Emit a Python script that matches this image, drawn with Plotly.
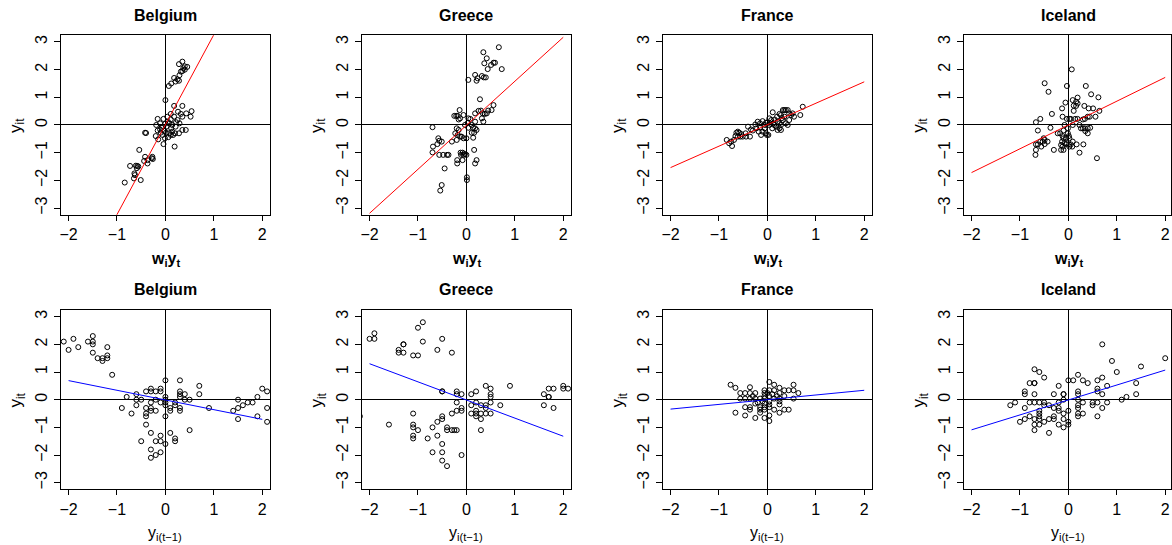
import plotly.graph_objects as go

W, H = 1172, 545

countries = ["Belgium", "Greece", "France", "Iceland"]
x_ticks = [-2, -1, 0, 1, 2]
y_ticks = [-3, -2, -1, 0, 1, 2, 3]

# ---- top row: y_it against w_i y_t (spatial lag) ----
belgium_spatial = [
    [0.35, 2.29], [0.28, 2.2], [0.40, 2.12], [0.45, 2.1], [0.37, 2.05], [0.32, 1.93], [0.29, 1.8],
    [0.25, 1.65], [0.18, 1.7], [0.21, 1.57], [0.12, 1.5], [0.07, 1.41], [0.28, 1.6], [0.35, 1.95],
    [0.40, 2.0], [0.0, 0.9],
    [0.54, 0.5], [0.52, 0.3], [0.43, 0.42], [0.35, 0.69], [0.18, 0.69], [0.26, 0.48], [0.32, 0.4],
    [0.18, 0.3], [0.11, 0.4], [0.04, 0.3], [0.35, 0.3], [0.25, 0.18], [0.11, 0.2], [-0.04, 0.22],
    [-0.16, 0.22], [-0.19, 0.0], [-0.11, 0.06], [-0.06, -0.06], [0.02, -0.06], [0.08, 0.06],
    [0.14, 0.0], [0.21, -0.06], [0.29, 0.06], [0.35, -0.18], [0.42, -0.18], [0.14, -0.24],
    [0.08, -0.3], [0.01, -0.28], [-0.06, -0.36], [-0.11, -0.16], [-0.16, -0.2], [-0.2, -0.4],
    [-0.15, -0.52], [-0.04, -0.69], [0.19, -0.78], [0.28, -0.3], [0.11, -0.36], [-0.1, -0.28],
    [-0.01, -0.48], [0.06, -0.44], [0.16, -0.36], [0.22, 0.1], [0.05, 0.12], [-0.08, -0.1],
    [0.0, 0.05], [0.2, -0.3], [0.12, -0.12], [-0.02, -0.2],
    [-0.42, -0.28], [-0.40, -0.29], [-0.54, -0.9], [-0.42, -1.15], [-0.37, -1.27], [-0.44, -1.3],
    [-0.37, -1.39], [-0.27, -1.15], [-0.28, -1.2], [-0.26, -1.23], [-0.73, -1.48], [-0.61, -1.47],
    [-0.58, -1.48], [-0.56, -1.5], [-0.59, -1.56], [-0.64, -1.75], [-0.63, -1.81], [-0.65, -1.93],
    [-0.51, -1.99], [-0.84, -2.08],
]
greece_spatial = [
    [0.67, 2.81], [0.35, 2.63], [0.42, 2.41], [0.37, 2.23], [0.56, 2.25], [0.59, 2.25], [0.51, 2.17],
    [0.44, 2.02], [0.73, 2.02], [0.18, 1.81], [0.32, 1.77], [0.36, 1.72], [0.40, 1.72], [0.21, 1.6],
    [0.23, 1.69], [0.04, 1.63], [0.28, 0.93], [0.56, 0.72], [0.52, 0.54], [0.45, 0.52], [0.30, 0.52],
    [0.25, 0.51], [0.34, 0.42], [0.42, 0.42], [0.38, 0.4], [0.18, 0.42], [-0.14, 0.54], [-0.25, 0.33],
    [-0.21, 0.33], [-0.18, 0.33], [-0.13, 0.24], [-0.16, 0.2], [-0.06, 0.36], [0.04, 0.24],
    [0.08, 0.22], [0.32, 0.24], [0.35, 0.12], [0.18, 0.12], [0.11, 0.0], [0.03, 0.08], [-0.03, 0.0],
    [0.04, -0.1], [0.14, -0.1], [0.18, -0.12], [0.21, -0.18], [0.16, -0.28], [0.11, -0.28],
    [0.14, -0.46], [-0.2, -0.12], [-0.16, -0.18], [-0.23, -0.3], [-0.18, -0.36], [-0.13, -0.42],
    [-0.1, -0.42], [-0.06, -0.48], [-0.3, -0.6], [-0.2, -0.54], [0.0, -0.48], [-0.58, -0.48],
    [-0.56, -0.57], [-0.51, -0.6], [-0.6, -0.69], [-0.7, -0.08], [-0.69, -0.78], [-0.7, -0.99],
    [-0.56, -1.08], [-0.48, -1.08], [-0.4, -1.08], [-0.37, -1.08], [-0.12, -1.0], [-0.08, -1.0],
    [-0.03, -1.05], [-0.06, -1.08], [-0.11, -1.08], [0.0, -1.08], [0.16, -0.9], [-0.19, -1.27],
    [-0.19, -1.39], [-0.08, -1.27], [0.21, -1.27], [0.18, -1.39], [-0.45, -1.57], [0.01, -1.89],
    [0.01, -1.99], [-0.51, -2.17], [-0.54, -2.37],
]
france_spatial = [
    [-0.84, -0.54], [-0.79, -0.66], [-0.75, -0.6], [-0.73, -0.76], [-0.69, -0.54], [-0.66, -0.4],
    [-0.64, -0.28], [-0.61, -0.24], [-0.58, -0.28], [-0.54, -0.33], [-0.61, -0.42], [-0.56, -0.42],
    [-0.51, -0.42], [-0.44, -0.42], [-0.40, -0.06], [-0.36, -0.42], [-0.34, -0.16], [-0.25, 0.02],
    [-0.2, 0.12], [-0.15, 0.06], [-0.23, -0.12], [-0.18, -0.24], [-0.13, -0.36], [-0.1, -0.24],
    [-0.06, -0.12], [-0.03, -0.3], [-0.1, 0.14], [-0.03, 0.08], [0.04, 0.24], [0.08, 0.18],
    [0.04, 0.0], [0.1, -0.12], [0.14, 0.0], [0.18, -0.06], [-0.01, -0.36], [0.02, -0.36],
    [0.11, 0.46], [0.13, 0.06], [0.21, 0.12], [0.25, 0.06], [0.28, 0.0], [0.32, 0.18], [0.35, 0.3],
    [0.28, 0.36], [0.32, 0.54], [0.35, 0.54], [0.38, 0.54], [0.42, 0.54], [0.45, 0.42], [0.49, 0.36],
    [0.52, 0.42], [0.55, 0.3], [0.45, 0.18], [0.38, 0.06], [0.42, 0.0], [0.25, -0.12], [0.28, -0.18],
    [0.21, -0.18], [0.68, 0.36], [0.73, 0.66], [0.0, 0.1], [-0.05, 0.0], [0.06, 0.05], [0.15, 0.2],
    [0.2, 0.3], [-0.15, -0.1], [0.3, 0.25], [0.25, 0.4], [-0.3, -0.2], [-0.45, -0.3],
]
iceland_spatial = [
    [0.07, 2.01], [-0.49, 1.51], [-0.03, 1.41], [0.36, 1.41], [-0.41, 1.2], [0.47, 1.11], [0.62, 1.0],
    [0.19, 0.99], [0.09, 0.9], [0.16, 0.84], [-0.06, 0.81], [0.11, 0.7], [0.16, 0.69], [0.19, 0.78],
    [0.33, 0.69], [-0.13, 0.6], [0.51, 0.6], [0.42, 0.6], [0.64, 0.51], [0.11, 0.51], [-0.34, 0.4],
    [0.4, 0.3], [0.44, 0.3], [0.56, 0.3], [-0.12, 0.3], [-0.58, 0.22], [-0.03, 0.22], [0.02, 0.22],
    [0.05, 0.22], [0.14, 0.22], [0.19, 0.22], [0.3, 0.2], [0.34, 0.22], [-0.67, 0.1], [-0.63, -0.2],
    [-0.37, -0.1], [-0.08, 0.0], [0.09, 0.0], [0.23, 0.0], [0.26, -0.12], [0.3, -0.12], [0.34, -0.12],
    [0.4, -0.12], [0.45, -0.1], [-0.01, -0.12], [-0.1, -0.2], [0.4, -0.3], [0.35, -0.22],
    [-0.22, -0.3], [-0.17, -0.3], [-0.12, -0.4], [-0.1, -0.48], [0.01, -0.4], [0.02, -0.48],
    [-0.13, -0.6], [-0.08, -0.66], [-0.43, -0.6], [-0.51, -0.48], [-0.49, -0.54], [-0.53, -0.6],
    [-0.58, -0.6], [-0.67, -0.7], [-0.63, -0.7], [-0.56, -0.78], [-0.49, -0.69], [-0.67, -0.9],
    [-0.68, -1.08], [-0.3, -0.9], [-0.15, -0.72], [-0.12, -0.78], [-0.05, -0.7], [-0.03, -0.66],
    [-0.15, -0.9], [-0.1, -0.9], [0.05, -0.7], [0.09, -0.6], [0.17, -0.7], [0.08, -0.78],
    [0.23, -1.0], [0.31, -0.7], [0.59, -1.2], [-0.05, -0.46], [-0.01, -0.3], [0.02, -0.78],
]

# ---- bottom row: y_it against y_i(t-1) (time lag) ----
belgium_temporal = [
    [-2.1, 2.1], [-2.0, 1.8], [-1.9, 2.2], [-1.8, 1.9], [-1.6, 2.1], [-1.5, 2.3], [-1.5, 2.1],
    [-1.5, 2.0], [-1.5, 1.7], [-1.4, 1.5], [-1.3, 1.5], [-1.3, 1.4], [-1.2, 1.9], [-1.2, 1.6],
    [-1.2, 1.5], [-1.1, 0.9],
    [-0.9, -0.3], [-0.8, 0.1], [-0.7, -0.5], [-0.6, 0.2], [-0.6, 0.0], [-0.6, -0.2], [-0.5, 0.0],
    [-0.5, -1.5], [-0.4, 0.3], [-0.4, -0.3], [-0.4, -0.5], [-0.4, -0.6], [-0.4, -0.9],
    [-0.3, 0.4], [-0.3, 0.3], [-0.3, -0.1], [-0.3, -0.3], [-0.3, -0.4], [-0.3, -1.2], [-0.3, -1.8],
    [-0.3, -2.1], [-0.2, 0.3], [-0.2, 0.0], [-0.2, -0.4], [-0.2, -1.5], [-0.2, -2.0],
    [-0.1, 0.4], [-0.1, 0.3], [-0.1, -0.1], [-0.1, -1.3], [-0.1, -1.5], [-0.1, -1.9],
    [0.0, 0.7], [0.0, 0.1], [0.0, 0.0], [0.0, -0.1], [0.0, -0.2], [0.0, -0.6], [0.0, -1.6],
    [0.1, -0.3], [0.1, -0.4], [0.1, -1.2], [0.2, -0.1], [0.2, -0.2], [0.2, -1.4], [0.2, -1.5],
    [0.3, 0.7], [0.3, 0.3], [0.3, 0.2], [0.3, 0.1], [0.3, -0.3], [0.3, -0.4], [0.4, 0.2], [0.4, 0.0],
    [0.5, 0.0], [0.5, -1.1], [0.7, 0.5], [0.7, 0.2], [0.9, -0.3],
    [1.4, -0.4], [1.5, 0.0], [1.5, -0.3], [1.5, -0.7], [1.6, -0.2], [1.7, -0.1], [1.8, -0.1],
    [1.9, 0.1], [1.9, -0.6], [2.0, 0.4], [2.1, 0.3], [2.1, -0.3], [2.1, -0.8],
]
greece_temporal = [
    [-2.2, -0.6], [-2.0, 2.2], [-1.9, 2.4], [-1.9, 2.2], [-1.6, -0.9], [-1.4, 1.8], [-1.4, 1.7],
    [-1.3, 2.0], [-1.3, 2.0], [-1.3, 1.7], [-1.1, 1.6], [-1.1, -0.5], [-1.1, -0.9], [-1.1, -1.0],
    [-1.1, -1.3], [-1.1, -1.4], [-1.0, 2.6], [-1.0, 1.6], [-1.0, -1.1], [-0.9, 2.8], [-0.9, 2.1],
    [-0.8, -1.4], [-0.7, -1.0], [-0.7, -1.9], [-0.6, 1.8], [-0.6, -0.8], [-0.6, -1.3],
    [-0.5, 2.2], [-0.5, 0.3], [-0.5, 0.3], [-0.5, -0.6], [-0.5, -0.7], [-0.5, -1.6], [-0.5, -1.9],
    [-0.5, -2.2], [-0.4, -1.0], [-0.4, -1.1], [-0.4, -2.4], [-0.3, 1.7], [-0.3, -0.5], [-0.3, -1.1],
    [-0.25, -1.1], [-0.2, 0.3], [-0.2, 0.2], [-0.2, -0.1], [-0.2, -0.4], [-0.2, -1.1],
    [-0.1, 0.2], [-0.1, -0.3], [-0.1, -0.4], [-0.1, -2.0],
    [0.1, 0.2], [0.1, -0.2], [0.1, -0.5], [0.2, 0.3], [0.2, -0.1], [0.2, -0.4], [0.2, -0.5],
    [0.2, -0.6], [0.3, -0.2], [0.3, -0.5], [0.3, -0.7], [0.3, -1.1], [0.4, 0.5], [0.4, -0.2],
    [0.4, -0.3], [0.4, -0.5], [0.5, 0.4], [0.5, 0.2], [0.5, 0.1], [0.5, -0.1], [0.5, -0.5],
    [0.7, -0.2], [0.9, 0.5], [1.6, 0.2], [1.6, -0.2], [1.7, 0.4], [1.7, 0.1], [1.7, 0.1],
    [1.8, 0.4], [1.8, -0.3], [2.0, 0.5], [2.0, 0.4], [2.1, 0.4],
]
france_temporal = [
    [-0.76, 0.54], [-0.66, 0.43], [-0.66, -0.47], [-0.56, 0.24], [-0.56, 0.04],
    [-0.46, 0.24], [-0.46, 0.04], [-0.46, -0.27], [-0.46, -0.57],
    [-0.36, 0.45], [-0.36, 0.24], [-0.36, 0.04], [-0.36, -0.27], [-0.36, -0.36],
    [-0.25, 0.24], [-0.25, 0.04], [-0.25, -0.14], [-0.25, -0.66],
    [-0.15, 0.04], [-0.15, -0.27], [-0.15, -0.36], [-0.15, -0.47],
    [-0.06, 0.34], [-0.06, 0.24], [-0.06, 0.13], [-0.06, 0.04], [-0.06, -0.14], [-0.06, -0.27],
    [-0.06, -0.36], [-0.06, -0.66],
    [0.04, 0.64], [0.04, 0.34], [0.04, 0.13], [0.04, -0.06], [0.04, -0.17], [0.04, -0.27],
    [0.04, -0.57], [0.04, -0.77],
    [0.14, 0.54], [0.14, 0.34], [0.14, 0.04], [0.14, -0.36],
    [0.25, 0.43], [0.25, 0.24], [0.25, 0.04], [0.25, -0.06], [0.25, -0.17], [0.25, -0.47],
    [0.35, 0.34], [0.35, 0.13], [0.35, -0.36], [0.44, 0.34], [0.44, -0.36],
    [0.54, 0.54], [0.54, 0.34], [0.54, 0.04], [0.64, 0.24],
    [-0.3, 0.13], [-0.1, -0.06], [0.0, 0.24], [0.1, 0.2], [0.2, 0.13], [-0.2, -0.1],
]
iceland_temporal = [
    [-1.2, -0.2], [-1.1, -0.1], [-1.0, -0.8], [-0.9, 0.3], [-0.9, 0.2], [-0.9, -0.3], [-0.9, -0.7],
    [-0.8, 0.6], [-0.8, -0.1], [-0.8, -0.6], [-0.7, 1.1], [-0.7, 0.6], [-0.7, 0.6], [-0.7, 0.2],
    [-0.7, -0.1], [-0.7, -0.7], [-0.7, -0.9], [-0.7, -1.1], [-0.6, 1.0], [-0.6, -0.1], [-0.6, -0.4],
    [-0.6, -0.5], [-0.6, -0.6], [-0.6, -0.7], [-0.6, -0.9], [-0.5, 0.8], [-0.5, -0.1], [-0.5, -0.2],
    [-0.5, -0.8], [-0.4, -0.2], [-0.4, -1.2], [-0.4, -0.7], [-0.3, 0.2], [-0.3, -0.3], [-0.3, -0.6],
    [-0.3, -0.7], [-0.2, 0.5], [-0.2, -0.1], [-0.2, -0.3], [-0.2, -0.4], [-0.2, -0.9],
    [-0.1, 0.2], [-0.1, 0.2], [-0.1, 0.0], [-0.1, -0.5], [-0.1, -0.7], [-0.1, -1.0],
    [0.0, 0.7], [0.0, -0.4], [0.0, -0.8], [0.0, -0.9], [0.1, 0.7], [0.2, 0.9], [0.2, 0.3],
    [0.2, 0.2], [0.2, 0.0], [0.2, -0.2], [0.2, -0.3], [0.2, -0.5], [0.2, -0.6], [0.3, 0.7],
    [0.3, -0.1], [0.3, -0.5], [0.4, 0.6], [0.5, -0.1], [0.5, -0.2], [0.6, 0.7], [0.6, 0.4],
    [0.6, 0.3], [0.6, -0.1], [0.6, -0.6], [0.7, 2.0], [0.7, 0.8], [0.7, 0.2], [0.7, -0.3],
    [0.8, 0.5], [0.8, -0.1], [0.9, 1.4], [1.0, 1.0], [1.1, 0.0], [1.2, 0.1], [1.4, 0.6],
    [1.4, 0.2], [1.5, 1.2], [2.0, 1.5],
]

spatial_data = [belgium_spatial, greece_spatial, france_spatial, iceland_spatial]
temporal_data = [belgium_temporal, greece_temporal, france_temporal, iceland_temporal]

# fitted lines (intercept, slope), drawn over x in [-2, 2]
spatial_intercepts = [0.015, -0.01, 0.01, 0.0]
spatial_slopes = [3.25, 1.59, 0.775, 0.86]
temporal_intercepts = [-0.01, -0.01, 0.0, -0.01]
temporal_slopes = [-0.35, -0.655, 0.17, 0.54]
line_x = [-2, 2]

# ---- layout geometry (pixels) ----
FONT = "Liberation Sans, Arial, Helvetica, sans-serif"
XPX = 48.5      # pixels per x unit
YPX = 27.67     # pixels per y unit
XR = 2.16
YR = 3.24
col_zero = [164.7 + 301.5 * c for c in range(4)]
row_zero = [125.0, 399.7]

fig = go.Figure()
annotations = []
layout_axes = {}

rows = [
    (spatial_data, spatial_intercepts, spatial_slopes, "red", "<b>w<sub>i</sub>y<sub>t</sub></b>"),
    (temporal_data, temporal_intercepts, temporal_slopes, "blue", "y<sub>i(t\u22121)</sub>"),
]

n = 0
for r, (datasets, intercepts, slopes, lcolor, xlab) in enumerate(rows):
    for c in range(4):
        n += 1
        xa = "x" if n == 1 else f"x{n}"
        ya = "y" if n == 1 else f"y{n}"
        cx = col_zero[c]
        cy = row_zero[r]
        left = cx - XR * XPX
        right = cx + XR * XPX
        xmax = XR
        if right > W:
            right = W
            xmax = (W - cx) / XPX
        top = cy - YR * YPX
        bottom = cy + YR * YPX

        pts = datasets[c]
        fig.add_trace(go.Scatter(
            x=[p[0] for p in pts], y=[p[1] for p in pts], mode="markers",
            marker=dict(symbol="circle-open", size=5, color="black", line=dict(width=1, color="black")),
            xaxis=xa, yaxis=ya, showlegend=False, hoverinfo="skip",
        ))
        fig.add_trace(go.Scatter(
            x=line_x, y=[intercepts[c] + slopes[c] * v for v in line_x], mode="lines",
            line=dict(color=lcolor, width=1), xaxis=xa, yaxis=ya, showlegend=False, hoverinfo="skip",
        ))

        common = dict(
            showline=True, mirror=True, linecolor="black", linewidth=1,
            ticks="outside", tickwidth=1, tickcolor="black",
            showgrid=False, zeroline=True, zerolinecolor="black", zerolinewidth=1,
            tickfont=dict(family=FONT, size=16, color="black"), fixedrange=True,
        )
        layout_axes["xaxis" if n == 1 else f"xaxis{n}"] = dict(
            domain=[left / W, right / W], range=[-XR, xmax], tickvals=x_ticks,
            anchor=ya, ticklen=5, **common,
        )
        layout_axes["yaxis" if n == 1 else f"yaxis{n}"] = dict(
            domain=[1 - bottom / H, 1 - top / H], range=[-YR, YR], tickvals=y_ticks,
            tickangle=-90, anchor=xa, ticklen=6, **common,
        )

        annotations.append(dict(
            text=f"<b>{countries[c]}</b>", x=cx / W, y=1 - (15 + 274.7 * r) / H,
            xref="paper", yref="paper", xanchor="center", yanchor="middle", showarrow=False,
            font=dict(family=FONT, size=16, color="black"),
        ))
        annotations.append(dict(
            text=xlab, x=cx / W, y=1 - (259 + 274.7 * r) / H,
            xref="paper", yref="paper", xanchor="center", yanchor="middle", showarrow=False,
            font=dict(family=FONT, size=16, color="black"),
        ))
        annotations.append(dict(
            text="y<sub>it</sub>", x=(left - 44) / W, y=1 - cy / H, textangle=-90,
            xref="paper", yref="paper", xanchor="center", yanchor="middle", showarrow=False,
            font=dict(family=FONT, size=17, color="black"),
        ))

fig.update_layout(
    width=W, height=H, margin=dict(l=0, r=0, t=0, b=0),
    paper_bgcolor="white", plot_bgcolor="white",
    font=dict(family=FONT, size=16, color="black"),
    annotations=annotations, showlegend=False,
    **layout_axes,
)

fig.write_html("out.html", config={"displayModeBar": False},
               post_script="document.body.style.margin='0';")
